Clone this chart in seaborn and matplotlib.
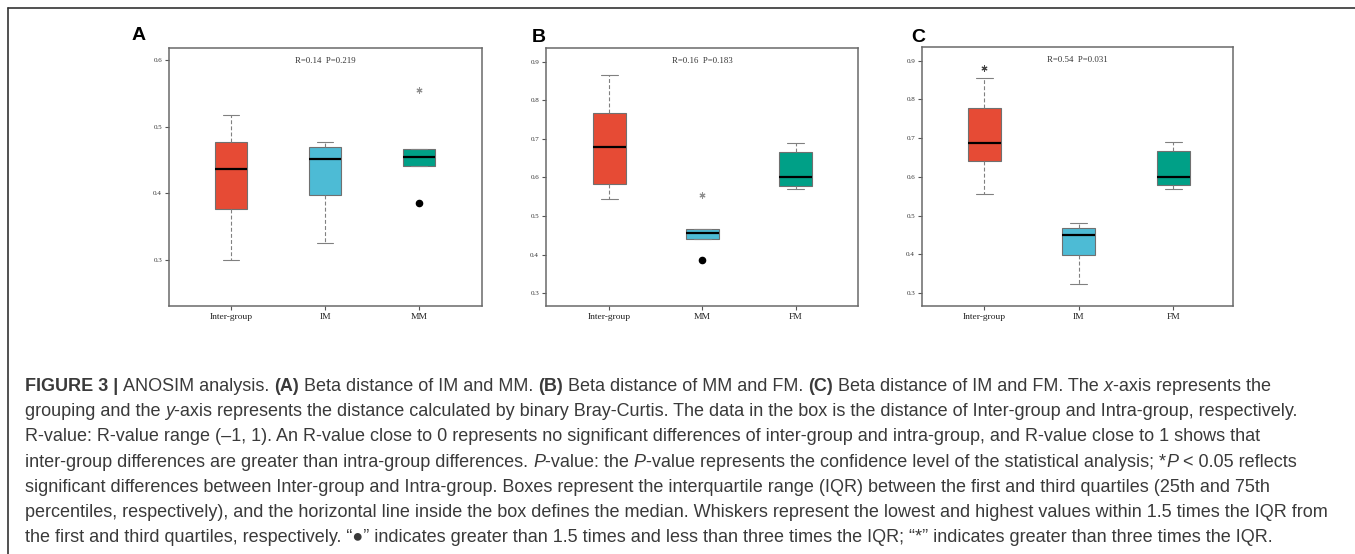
import matplotlib
matplotlib.use("Agg")
import matplotlib.pyplot as plt
import seaborn as sns
from matplotlib.lines import Line2D

# summary stats (whisker low, Q1, median, Q3, whisker high)
a_groups = ["Inter-group", "IM", "MM"]
a_low = [0.300, 0.325, 0.441]
a_q1 = [0.377, 0.398, 0.441]
a_med = [0.437, 0.451, 0.454]
a_q3 = [0.477, 0.470, 0.466]
a_high = [0.517, 0.477, 0.466]
a_dots = {"MM": [0.386]}
a_stars = {"MM": [0.555]}
a_stat = "R=0.14  P=0.219"

b_groups = ["Inter-group", "MM", "FM"]
b_low = [0.543, 0.441, 0.570]
b_q1 = [0.583, 0.441, 0.578]
b_med = [0.678, 0.455, 0.600]
b_q3 = [0.768, 0.466, 0.666]
b_high = [0.865, 0.466, 0.690]
b_dots = {"MM": [0.386]}
b_stars = {"MM": [0.555]}
b_stat = "R=0.16  P=0.183"

c_groups = ["Inter-group", "IM", "FM"]
c_low = [0.556, 0.325, 0.570]
c_q1 = [0.642, 0.398, 0.578]
c_med = [0.688, 0.451, 0.600]
c_q3 = [0.777, 0.469, 0.666]
c_high = [0.855, 0.480, 0.690]
c_dots = {}
c_stars = {"Inter-group": [0.880]}
c_stat = "R=0.54  P=0.031"

a_yticks = [0.3, 0.4, 0.5, 0.6]
bc_yticks = [0.3, 0.4, 0.5, 0.6, 0.7, 0.8, 0.9]

sns.set_style("white")
plt.rcParams["font.family"] = ["Liberation Sans", "DejaVu Sans"]
pal = sns.color_palette(["#E64B35", "#4DBBD5", "#00A087"])

W, H = 1355, 554
fig = plt.figure(figsize=(W / 100, H / 100), dpi=100)

# outer frame (top + left)
fig.add_artist(Line2D([8 / W, 1], [1 - 8 / H, 1 - 8 / H], color="#333333", lw=1.2))
fig.add_artist(Line2D([8 / W, 8 / W], [0, 1 - 8 / H], color="#333333", lw=1.2))


def panel(rect, letter, groups, low, q1, med, q3, high, dots, stars, stat, yticks, ylim, xlim, star_col):
    ax = fig.add_axes(rect)
    stats = []
    for g, lo, a, m, b, hi in zip(groups, low, q1, med, q3, high):
        stats.append(dict(label=g, whislo=lo, q1=a, med=m, q3=b, whishi=hi, fliers=[]))
    bp = ax.bxp(stats, positions=range(len(groups)), widths=0.35, capwidths=0.18,
                patch_artist=True, showfliers=False,
                boxprops=dict(edgecolor="#707070", linewidth=0.8),
                whiskerprops=dict(color="#808080", linestyle=(0, (3.5, 2)), linewidth=0.8),
                capprops=dict(color="#808080", linewidth=0.8),
                medianprops=dict(color="black", linewidth=1.6))
    for box, col in zip(bp["boxes"], pal):
        box.set_facecolor(col)
    for g, vals in dots.items():
        i = groups.index(g)
        ax.scatter([i] * len(vals), vals, s=20, color="black", zorder=5)
    for g, vals in stars.items():
        i = groups.index(g)
        ax.scatter([i] * len(vals), vals, s=14, marker=(6, 2, 0), color=star_col,
                   linewidths=0.8, zorder=5)
    ax.set_xlim(xlim)
    ax.set_ylim(ylim)
    ax.set_yticks(yticks)
    ax.set_yticklabels([f"{t:.1f}" for t in yticks], family="Liberation Serif",
                       fontsize=5, color="#333333")
    ax.set_xticks(range(len(groups)))
    ax.set_xticklabels(groups, family="Liberation Serif", fontsize=6.8, color="#222222")
    ax.tick_params(axis="both", direction="out", length=3, width=0.8, color="#555555",
                   pad=2, bottom=True, left=True)
    for sp in ax.spines.values():
        sp.set_color("#6a6a6a")
        sp.set_linewidth(1.1)
    ax.text(0.5, 0.965, stat, transform=ax.transAxes, ha="center", va="top",
            family="Liberation Serif", fontsize=6.3, color="#333333")
    fig.text(letter[1] / W, 1 - letter[2] / H, letter[0], fontsize=14, fontweight="bold",
             ha="center", va="center", color="black")
    return ax


panel([169 / W, 1 - 306 / H, 313 / W, 258 / H], ("A", 139, 36),
      a_groups, a_low, a_q1, a_med, a_q3, a_high, a_dots, a_stars, a_stat,
      a_yticks, (0.231, 0.618), (-0.66, 2.67), "#909090")
panel([546 / W, 1 - 306 / H, 312 / W, 258 / H], ("B", 539, 37),
      b_groups, b_low, b_q1, b_med, b_q3, b_high, b_dots, b_stars, b_stat,
      bc_yticks, (0.267, 0.935), (-0.68, 2.67), "#909090")
panel([922 / W, 1 - 306 / H, 311 / W, 259 / H], ("C", 918, 38),
      c_groups, c_low, c_q1, c_med, c_q3, c_high, c_dots, c_stars, c_stat,
      bc_yticks, (0.267, 0.935), (-0.66, 2.63), "#444444")

# caption with mixed bold / italic runs: (text, weight, style)
N, B, I = ("normal", "normal"), ("bold", "normal"), ("normal", "italic")
caption = [
    [("FIGURE 3 | ", B), ("ANOSIM analysis. ", N), ("(A)", B), (" Beta distance of IM and MM. ", N),
     ("(B)", B), (" Beta distance of MM and FM. ", N), ("(C)", B),
     (" Beta distance of IM and FM. The ", N), ("x", I), ("-axis represents the", N)],
    [("grouping and the ", N), ("y", I),
     ("-axis represents the distance calculated by binary Bray-Curtis. The data in the box is the distance of Inter-group and Intra-group, respectively.", N)],
    [("R-value: R-value range (–1, 1). An R-value close to 0 represents no significant differences of inter-group and intra-group, and R-value close to 1 shows that", N)],
    [("inter-group differences are greater than intra-group differences. ", N), ("P", I),
     ("-value: the ", N), ("P", I),
     ("-value represents the confidence level of the statistical analysis; *", N), ("P", I),
     (" < 0.05 reflects", N)],
    [("significant differences between Inter-group and Intra-group. Boxes represent the interquartile range (IQR) between the first and third quartiles (25th and 75th", N)],
    [("percentiles, respectively), and the horizontal line inside the box defines the median. Whiskers represent the lowest and highest values within 1.5 times the IQR from", N)],
    [("the first and third quartiles, respectively. “●” indicates greater than 1.5 times and less than three times the IQR; “*” indicates greater than three times the IQR.", N)],
]

renderer = fig.canvas.get_renderer()
# fit the font so the longest line spans the same width as in the figure
probe = fig.text(0, 0, caption[5][0][0], fontsize=11)
scale = 1299 / probe.get_window_extent(renderer).width
probe.remove()
fs = 11 * scale

x0, y0, dy = 25, 391, 25.2
for k, line in enumerate(caption):
    x = x0
    for txt, (wt, st) in line:
        t = fig.text(x / W, 1 - (y0 + k * dy) / H, txt, fontsize=fs, fontweight=wt,
                     fontstyle=st, color="#3a3a3a", va="baseline", ha="left")
        x = t.get_window_extent(renderer).x1

fig.savefig("out.png", dpi=100)
